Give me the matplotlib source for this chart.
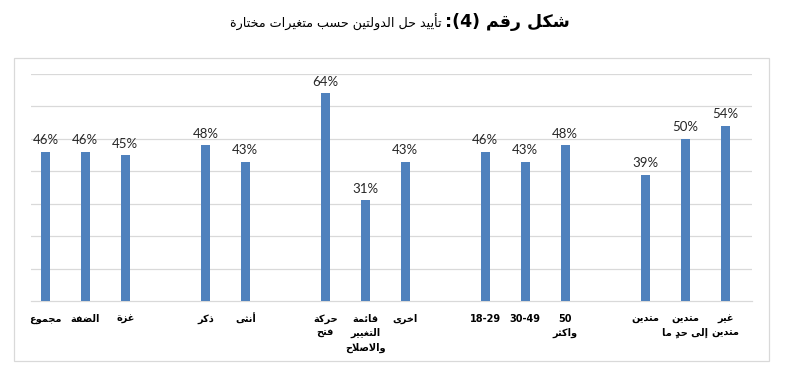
import re
import unicodedata
import matplotlib
matplotlib.use('Agg')
import matplotlib.pyplot as plt
from matplotlib.patches import Rectangle

# Données du graphique
categories = ['مجموع', 'الضفة', 'غزة',
              'ذكر', 'أنثى',
              'حركة\nفتح', 'قائمة\nالتغيير\nوالاصلاح', 'اخرى',
              '18-29', '30-49', '50\nواكثر',
              'متدين', 'متدين\nإلى حدٍ ما', 'غير\nمتدين']
values = [0.46, 0.46, 0.45,
          0.48, 0.43,
          0.64, 0.31, 0.43,
          0.46, 0.43, 0.48,
          0.39, 0.50, 0.54]
group_sizes = [3, 2, 3, 3, 3]
title_bold = 'شكل رقم (4):'
title_rest = 'تأييد حل الدولتين حسب متغيرات مختارة'


# Mise en forme de l'arabe (matplotlib ne fait ni liaison ni bidi)
_order = [('ء', 1), ('آ', 2), ('أ', 2), ('ؤ', 2), ('إ', 2), ('ئ', 4), ('ا', 2),
          ('ب', 4), ('ة', 2), ('ت', 4), ('ث', 4), ('ج', 4), ('ح', 4), ('خ', 4),
          ('د', 2), ('ذ', 2), ('ر', 2), ('ز', 2), ('س', 4), ('ش', 4), ('ص', 4),
          ('ض', 4), ('ط', 4), ('ظ', 4), ('ع', 4), ('غ', 4), ('ف', 4), ('ق', 4),
          ('ك', 4), ('ل', 4), ('م', 4), ('ن', 4), ('ه', 4), ('و', 2), ('ى', 2),
          ('ي', 4)]
FORMS = {}
_code = 0xFE80
for ch, n in _order:
    FORMS[ch] = (_code, n)
    _code += n
LAM_ALEF = {'آ': 0xFEF5, 'أ': 0xFEF7, 'إ': 0xFEF9, 'ا': 0xFEFB}


def shape(line):
    idx = [i for i, c in enumerate(line) if not unicodedata.combining(c)]
    out = {}
    skip = set()
    for k, i in enumerate(idx):
        if i in skip:
            continue
        c = line[i]
        if c not in FORMS:
            out[i] = c
            continue
        prev = line[idx[k - 1]] if k > 0 else None
        nxt = line[idx[k + 1]] if k + 1 < len(idx) else None
        pj = prev in FORMS and FORMS[prev][1] == 4
        if c == 'ل' and nxt in LAM_ALEF:
            out[i] = chr(LAM_ALEF[nxt] + (1 if pj else 0))
            skip.add(idx[k + 1])
            continue
        start, n = FORMS[c]
        nj = n == 4 and nxt in FORMS
        if pj and nj:
            out[i] = chr(start + 3)
        elif pj and n > 1:
            out[i] = chr(start + 1)
        elif nj:
            out[i] = chr(start + 2)
        else:
            out[i] = chr(start)
    res = []
    for i, c in enumerate(line):
        if i in skip:
            continue
        res.append(out.get(i, c))
    return ''.join(res)


def ar(text):
    lines = []
    for line in text.split('\n'):
        if not any(c in FORMS for c in line):
            lines.append(line)
            continue
        clusters = []
        for ch in shape(line):
            if unicodedata.combining(ch) and clusters:
                # la marque est dessinée avant sa lettre (avance nulle)
                clusters[-1] = ch + clusters[-1]
            else:
                clusters.append(ch)
        s = ''.join(clusters[::-1])
        s = re.sub(r'[0-9A-Za-z.%]+', lambda m: m.group()[::-1], s)
        s = s.translate(str.maketrans('()', ')('))
        lines.append(s)
    return '\n'.join(lines)


# Positions : une case vide entre les groupes
positions = []
slot = 0
for g, size in enumerate(group_sizes):
    for _ in range(size):
        positions.append(slot)
        slot += 1
    slot += 1

fig = plt.figure(figsize=(7.93, 3.84), dpi=100)
W, H = 793, 384
ax = fig.add_axes([31 / W, 1 - 301 / H, (752 - 31) / W, (301 - 74) / H])

ax.bar(positions, values, width=0.23, color='#4f81bd', zorder=3)
for x, v in zip(positions, values):
    ax.annotate(f'{v:.0%}', xy=(x, v), xytext=(0, 4), textcoords='offset points',
                ha='center', va='bottom', fontsize=9.5, family='Lato', color='#262626')

ax.set_xlim(-0.36, 17.67)
ax.set_ylim(0, 0.7)
ax.set_yticks([0.1 * i for i in range(1, 8)])
ax.yaxis.grid(True, color='#d9d9d9', linewidth=0.9)
ax.tick_params(axis='y', left=False, labelleft=False)
ax.set_xticks(positions)
ax.set_xticklabels([ar(c) for c in categories], family='DejaVu Sans',
                   fontweight='bold', fontsize=7, linespacing=1.55)
ax.tick_params(axis='x', length=0, pad=9)
for s in ['top', 'left', 'right']:
    ax.spines[s].set_visible(False)
ax.spines['bottom'].set_color('#d9d9d9')
ax.spines['bottom'].set_linewidth(0.9)

# Cadre du graphique
fig.patches.append(Rectangle((14 / W, 1 - 361 / H), (769 - 14) / W, (361 - 58) / H,
                             transform=fig.transFigure, fill=False,
                             edgecolor='#d9d9d9', linewidth=0.9))

# Titre en deux parties (gras + normal)
ty = 1 - 22 / H
t1 = fig.text(570 / W, ty, ar(title_bold), ha='right', va='center',
              fontsize=12.5, fontweight='bold', family='DejaVu Sans')
fig.canvas.draw()
bb = t1.get_window_extent()
fig.text((bb.x0 - 4) / W, ty, ar(title_rest), ha='right', va='center',
         fontsize=9.2, family='DejaVu Sans')

plt.savefig('out.png', dpi=100)
